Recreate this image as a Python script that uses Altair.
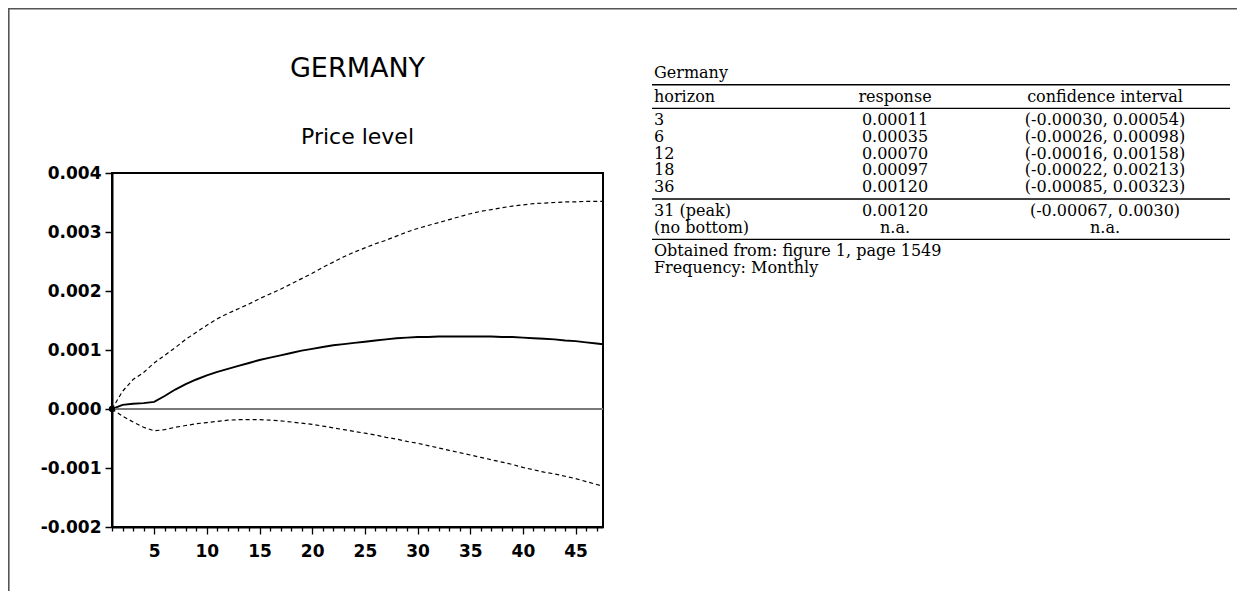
import altair as alt
import pandas as pd

# ---------------- data ----------------
months = list(range(1, 49))
response = [0.0, 0.00007, 0.00009, 0.00010, 0.00012, 0.00022, 0.00033, 0.00042,
            0.00050, 0.00057, 0.00063, 0.00068, 0.00073, 0.00078, 0.00083, 0.00087,
            0.00091, 0.00095, 0.00099, 0.00102, 0.00105, 0.00108, 0.00110, 0.00112,
            0.00114, 0.00116, 0.00118, 0.00120, 0.00121, 0.00122, 0.00122, 0.00123,
            0.00123, 0.00123, 0.00123, 0.00123, 0.00123, 0.00122, 0.00122, 0.00121,
            0.00120, 0.00119, 0.00118, 0.00116, 0.00115, 0.00113, 0.00111, 0.00109]
upper = [0.0, 0.00030, 0.00050, 0.00062, 0.00078, 0.00091, 0.00104, 0.00118,
         0.00130, 0.00142, 0.00153, 0.00162, 0.00170, 0.00178, 0.00187, 0.00195,
         0.00203, 0.00212, 0.00221, 0.00230, 0.00240, 0.00249, 0.00258, 0.00266,
         0.00273, 0.00280, 0.00286, 0.00293, 0.00300, 0.00306, 0.00311, 0.00316,
         0.00321, 0.00326, 0.00331, 0.00335, 0.00338, 0.00341, 0.00344, 0.00346,
         0.00348, 0.00349, 0.00350, 0.00351, 0.00351, 0.00352, 0.00352, 0.00352]
lower = [0.0, -0.00012, -0.00022, -0.00031, -0.00037, -0.00035, -0.00031, -0.00028,
         -0.00025, -0.00023, -0.00021, -0.00019, -0.00018, -0.00018, -0.00018, -0.00019,
         -0.00020, -0.00022, -0.00024, -0.00026, -0.00029, -0.00032, -0.00035, -0.00038,
         -0.00041, -0.00044, -0.00048, -0.00051, -0.00055, -0.00058, -0.00062, -0.00066,
         -0.00070, -0.00074, -0.00078, -0.00082, -0.00086, -0.00090, -0.00094, -0.00099,
         -0.00103, -0.00107, -0.00110, -0.00114, -0.00118, -0.00123, -0.00128, -0.00133]

chart_title = "GERMANY"
panel_title = "Price level"
y_tick_values = [-0.002, -0.001, 0.0, 0.001, 0.002, 0.003, 0.004]

table_name = "Germany"
header = ["horizon", "response", "confidence interval"]
horizon_col = ["3", "6", "12", "18", "36", "31 (peak)", "(no bottom)"]
response_col = ["0.00011", "0.00035", "0.00070", "0.00097", "0.00120", "0.00120", "n.a."]
interval_col = ["(-0.00030, 0.00054)", "(-0.00026, 0.00098)", "(-0.00016, 0.00158)",
                "(-0.00022, 0.00213)", "(-0.00085, 0.00323)", "(-0.00067, 0.0030)", "n.a."]
notes = ["Obtained from: figure 1, page 1549", "Frequency: Monthly"]

# ---------------- layout (pixels / line slots) ----------------
W, H = 491, 354
PAD_L, PAD_T = 104, 165
TOTAL_W, TOTAL_H = 1229, 583
SANS = "DejaVu Sans"
SERIF = "DejaVu Serif"
TFS = 16

title_slot = 0.0
header_slot = 1.4
body_slots = [2.8, 3.8, 4.8, 5.8, 6.8, 8.2, 9.2]
note_slots = [10.6, 11.6]
rule_slots = [0.7, 2.1, 7.5, 9.9]
LINE = 16.8
TABLE_TOP = 73 - 8 - PAD_T
TBL_X0, TBL_X1 = 540, 1118
COL_RESP, COL_CI = 783, 993

# ---------------- plot ----------------
lines_df = pd.DataFrame({
    "month": months * 3,
    "value": response + upper + lower,
    "series": ["response"] * 48 + ["upper"] * 48 + ["lower"] * 48,
})

xs = alt.Scale(domain=[1, 47.6], nice=False, zero=False)
ys = alt.Scale(domain=[-0.002, 0.004], nice=False, zero=False)

x_axis = alt.Axis(
    values=months, title=None, grid=False,
    tickSize={"condition": {"test": "datum.value % 5 === 0", "value": 7}, "value": 4},
    tickWidth=1.3, tickColor="black",
    labelExpr="datum.value % 5 === 0 ? datum.label : ''",
    labelFont=SANS, labelFontWeight="bold", labelFontSize=17, labelColor="black",
    labelPadding=9, labelOverlap=False, labelFlush=False, labelBound=False,
    domainColor="black", domainWidth=2,
)
y_axis = alt.Axis(
    values=y_tick_values, title=None, grid=False,
    tickSize=7, tickWidth=1.5, tickColor="black",
    labelExpr="datum.value < -0.0000001 ? '-' + format(-datum.value, '.3f') : format(abs(datum.value), '.3f')",
    labelFont=SANS, labelFontWeight="bold", labelFontSize=17, labelColor="black",
    labelPadding=4, labelOverlap=False, labelFlush=False,
    domainColor="black", domainWidth=2,
)

base = alt.Chart(lines_df).encode(
    x=alt.X("month:Q", scale=xs, axis=x_axis),
    y=alt.Y("value:Q", scale=ys, axis=y_axis),
)

zero_line = base.transform_filter("datum.series === 'response'").mark_rule(
    color="#7a7a7a", strokeWidth=1.6
).encode(y=alt.datum(0.0), x=alt.value(0), x2=alt.value(W))

bands = base.transform_filter("datum.series !== 'response'").mark_line(
    color="black", strokeWidth=1.2, strokeDash=[4, 3], clip=True
).encode(detail="series:N")

resp_line = base.transform_filter("datum.series === 'response'").mark_line(
    color="black", strokeWidth=1.9, clip=True
)

start_dot = base.transform_filter("datum.series === 'response' && datum.month === 1").mark_circle(
    color="black", size=40, opacity=1
)

title1 = alt.Chart(pd.DataFrame({"t": [chart_title]})).mark_text(
    font=SANS, fontSize=27, align="center", baseline="alphabetic", color="black"
).encode(text="t:N", x=alt.value(W / 2), y=alt.value(77 - 8 - PAD_T))

title2 = alt.Chart(pd.DataFrame({"t": [panel_title]})).mark_text(
    font=SANS, fontSize=22, align="center", baseline="alphabetic", color="black"
).encode(text="t:N", x=alt.value(W / 2), y=alt.value(144 - 8 - PAD_T))

frame_top = alt.Chart(pd.DataFrame({"a": [0]})).mark_rule(color="#555555", strokeWidth=1.6).encode(
    x=alt.value(-PAD_L), x2=alt.value(TOTAL_W - PAD_L), y=alt.value(-PAD_T + 0.8)
)
frame_left = alt.Chart(pd.DataFrame({"a": [0]})).mark_rule(color="#555555", strokeWidth=1.6).encode(
    x=alt.value(-PAD_L + 0.8), y=alt.value(-PAD_T), y2=alt.value(TOTAL_H - PAD_T)
)

plot = alt.layer(bands, resp_line, zero_line, start_dot, title1, title2, frame_top, frame_left)

# ---------------- table ----------------
rows = [(title_slot, table_name, "", "")]
rows.append((header_slot, header[0], header[1], header[2]))
for s, a, b, c in zip(body_slots, horizon_col, response_col, interval_col):
    rows.append((s, a, b, c))
for s, n in zip(note_slots, notes):
    rows.append((s, n, "", ""))
table_df = pd.DataFrame(rows, columns=["slot", "c1", "c2", "c3"])

ts = alt.Scale(domain=[0, 12], range=[TABLE_TOP, TABLE_TOP + 12 * LINE], nice=False, zero=False)
ty = alt.Y("slot:Q", scale=ts, axis=None)

tcol1 = alt.Chart(table_df).mark_text(
    font=SERIF, fontSize=TFS, align="left", baseline="middle", color="black"
).encode(x=alt.value(TBL_X0 + 2), y=ty, text="c1:N")
tcol2 = alt.Chart(table_df).mark_text(
    font=SERIF, fontSize=TFS, align="center", baseline="middle", color="black"
).encode(x=alt.value(COL_RESP), y=ty, text="c2:N")
tcol3 = alt.Chart(table_df).mark_text(
    font=SERIF, fontSize=TFS, align="center", baseline="middle", color="black"
).encode(x=alt.value(COL_CI), y=ty, text="c3:N")
trules = alt.Chart(pd.DataFrame({"slot": rule_slots})).mark_rule(
    color="black", strokeWidth=1.3
).encode(y=ty, x=alt.value(TBL_X0), x2=alt.value(TBL_X1))

table = alt.layer(trules, tcol1, tcol2, tcol3)

chart = alt.layer(plot, table).resolve_scale(y="independent").properties(
    width=W, height=H,
    autosize=alt.AutoSizeParams(type="none"),
    padding={"left": PAD_L, "top": PAD_T, "right": TOTAL_W - PAD_L - W, "bottom": TOTAL_H - PAD_T - H},
    background="white",
).configure_view(stroke="black", strokeWidth=2)

chart.save("out.html", embed_options={"renderer": "svg", "actions": False})
